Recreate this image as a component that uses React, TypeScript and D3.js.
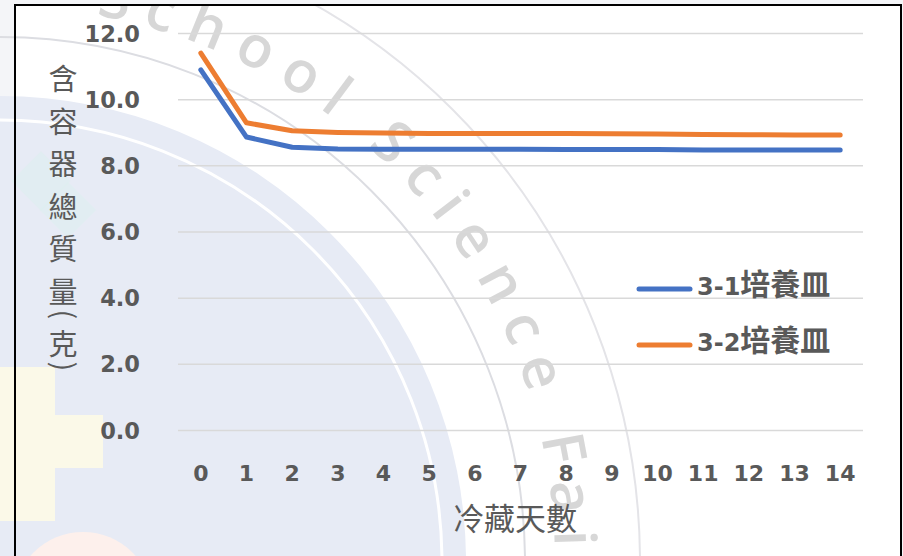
import React from 'react';
import * as d3 from 'd3';

const days = ['0', '1', '2', '3', '4', '5', '6', '7', '8', '9', '10', '11', '12', '13', '14'];
const series31 = [10.9, 8.87, 8.56, 8.51, 8.5, 8.5, 8.5, 8.5, 8.49, 8.49, 8.49, 8.48, 8.48, 8.48, 8.48];
const series32 = [11.41, 9.3, 9.06, 9.01, 8.99, 8.98, 8.98, 8.98, 8.98, 8.97, 8.96, 8.95, 8.94, 8.93, 8.93];
const seriesNames = ['3-1培養皿', '3-2培養皿'];
const seriesColors = ['#4472C4', '#ED7D31'];
const yTicks = [0, 2, 4, 6, 8, 10, 12];
const yTitleChars = ['含', '容', '器', '總', '質', '量', '(', '克', ')'];
const xTitle = '冷藏天數';
const watermark = 'School Science Fair';

const GRAY = '#595959';
const NUM_FONT = '"DejaVu Sans", sans-serif';
const CJK_FONT = '"Noto Sans CJK TC", "Noto Sans CJK SC", sans-serif';

export default function App() {
  const W = 903;
  const H = 556;
  const x = d3.scaleBand<string>().domain(days).range([178, 863]);
  const y = d3.scaleLinear().domain([0, 12]).range([430.5, 33.5]);
  const cx = (i: number) => (x(days[i]) as number) + x.bandwidth() / 2;
  const line = d3
    .line<number>()
    .x((_, i) => cx(i))
    .y((d) => y(d));
  const data = [series31, series32];

  // y title layout (vertical stacking)
  const titleCenters: number[] = [];
  let cur = 80;
  yTitleChars.forEach((c, i) => {
    if (i > 0) {
      const prevParen = /[()]/.test(yTitleChars[i - 1]);
      const paren = /[()]/.test(c);
      cur += prevParen || paren ? (paren ? 22 : 30) : 42.5;
    }
    titleCenters.push(cur);
  });

  // watermark geometry (concentric around one centre)
  const wx = 0;
  const wy = 562;
  const wmR = 555;
  const a0 = (-110 * Math.PI) / 180;
  const a1 = (30 * Math.PI) / 180;
  const arcPath = `M ${wx + wmR * Math.cos(a0)} ${wy + wmR * Math.sin(a0)} A ${wmR} ${wmR} 0 0 1 ${
    wx + wmR * Math.cos(a1)
  } ${wy + wmR * Math.sin(a1)}`;

  return (
    <svg width={W} height={H} style={{ position: 'fixed', left: 0, top: 0 }}>
      <defs>
        <path id="wmArc" d={arcPath} />
      </defs>
      <rect x={0} y={0} width={W} height={H} fill="#f4f5f8" />
      <rect x={15} y={5} width={886} height={560} fill="#ffffff" />
      {/* watermark background */}
      <g>
        <circle cx={wx} cy={wy} r={466} fill="#e7ebf5" />
        <circle cx={wx} cy={wy} r={442} fill="none" stroke="#ffffff" strokeWidth={3} />
        <circle cx={wx} cy={wy} r={525} fill="none" stroke="#dcdde2" strokeWidth={2} />
        <circle cx={wx} cy={wy} r={640} fill="none" stroke="#e4e4e8" strokeWidth={2} />
        <rect x={20} y={160} width={42} height={42} fill="#dcefee" opacity={0.55} transform="rotate(45 41 181)" />
        <rect x={48} y={190} width={40} height={40} fill="#dcefee" opacity={0.55} transform="rotate(45 68 210)" />
        <path d="M0 367 H55 V415 H103 V468 H55 V521 H0 Z" fill="#fbf9e8" />
        <circle cx={83} cy={602} r={70} fill="#fdf0ec" />
        <text
          fontFamily='"Open Sans", sans-serif'
          fontSize={58}
          fontWeight={600}
          fill="#bdbdbd"
          fillOpacity={0.6}
          letterSpacing={15}
        >
          <textPath href="#wmArc" startOffset={290}>
            {watermark}
          </textPath>
        </text>
      </g>
      <rect x={0} y={0} width={W} height={5} fill="#f4f5f8" />
      <rect x={15} y={5} width={886} height={560} fill="none" stroke="#000" strokeWidth={2} />

      {/* gridlines */}
      {yTicks.map((t) => (
        <line key={t} x1={178} x2={863} y1={y(t)} y2={y(t)} stroke="#d9d9d9" strokeWidth={1.5} />
      ))}

      {/* y tick labels */}
      {yTicks.map((t) => (
        <text
          key={t}
          x={140}
          y={y(t)}
          dy="0.36em"
          textAnchor="end"
          fontFamily={NUM_FONT}
          fontWeight="bold"
          fontSize={22.5}
          fill={GRAY}
        >
          {t.toFixed(1)}
        </text>
      ))}

      {/* x tick labels */}
      {days.map((d, i) => (
        <text
          key={d}
          x={cx(i)}
          y={473}
          dy="0.36em"
          textAnchor="middle"
          fontFamily={NUM_FONT}
          fontWeight="bold"
          fontSize={22}
          fill={GRAY}
        >
          {d}
        </text>
      ))}

      {/* lines */}
      {data.map((s, k) => (
        <path
          key={k}
          d={line(s) as string}
          fill="none"
          stroke={seriesColors[k]}
          strokeWidth={5}
          strokeLinejoin="round"
          strokeLinecap="round"
        />
      ))}

      {/* y title */}
      {yTitleChars.map((c, i) => {
        const paren = /[()]/.test(c);
        return (
          <text
            key={i}
            x={0}
            y={0}
            transform={`translate(63,${titleCenters[i]})${paren ? ' rotate(90)' : ''}`}
            dy="0.35em"
            textAnchor="middle"
            fontFamily={CJK_FONT}
            fontSize={29}
            fill={GRAY}
          >
            {c}
          </text>
        );
      })}

      {/* x title */}
      <text
        x={515}
        y={519}
        dy="0.36em"
        textAnchor="middle"
        fontFamily={CJK_FONT}
        fontSize={31}
        fill={GRAY}
      >
        {xTitle}
      </text>

      {/* legend */}
      {seriesNames.map((n, k) => {
        const ly = 289 + k * 56;
        const m = n.match(/^([0-9-]+)(.*)$/) as RegExpMatchArray;
        return (
          <g key={n}>
            <line
              x1={639}
              x2={690}
              y1={ly}
              y2={ly}
              stroke={seriesColors[k]}
              strokeWidth={5}
              strokeLinecap="round"
            />
            <text x={697} y={ly} dy="0.36em" fill={GRAY} fontWeight="bold">
              <tspan fontFamily={NUM_FONT} fontSize={24}>
                {m[1]}
              </tspan>
              <tspan fontFamily={CJK_FONT} fontSize={30}>
                {m[2]}
              </tspan>
            </text>
          </g>
        );
      })}
    </svg>
  );
}
